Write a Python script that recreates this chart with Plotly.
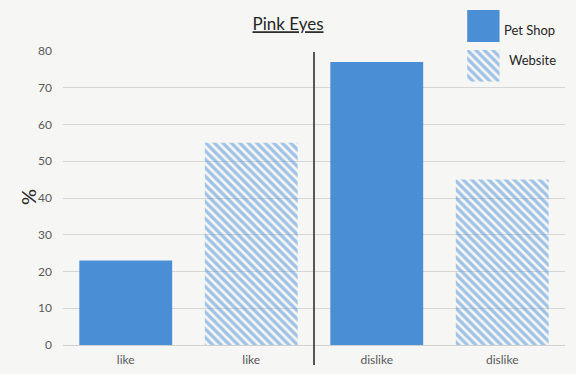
import plotly.graph_objects as go

categories = ["like", "like", "dislike", "dislike"]
series = ["Pet Shop", "Website", "Pet Shop", "Website"]
values = [23, 55, 77, 45]
legend_names = ["Pet Shop", "Website"]
y_ticks = [0, 10, 20, 30, 40, 50, 60, 70, 80]

BLUE = "#4a8fd6"
FONT = "Lato, Open Sans, sans-serif"
HATCH = dict(shape="\\", fgcolor=BLUE, bgcolor="rgba(255,255,255,0)", size=6, solidity=0.55)


def marker_for(name):
    if name == "Website":
        return dict(color="rgba(255,255,255,0)", line=dict(width=0), pattern=HATCH)
    return dict(color=BLUE, line=dict(width=0))


fig = go.Figure()
xs = list(range(len(categories)))
for name in legend_names:
    idx = [i for i, s in enumerate(series) if s == name]
    fig.add_trace(go.Bar(
        x=[xs[i] for i in idx], y=[values[i] for i in idx], name=name,
        width=0.74, marker=marker_for(name), showlegend=False,
    ))

# legend swatches, each in its own small inset axis
legend_axes = [("x2", "y2"), ("x3", "y3")]
for name, (xa, ya) in zip(legend_names, legend_axes):
    fig.add_trace(go.Bar(
        x=[0], y=[1], xaxis=xa, yaxis=ya, width=1,
        marker=marker_for(name), showlegend=False, hoverinfo="skip",
    ))

fig.update_layout(
    width=576, height=374,
    paper_bgcolor="#f6f6f5", plot_bgcolor="#f6f6f5",
    margin=dict(l=63, r=11, t=5, b=29, autoexpand=False),
    font=dict(family=FONT, color="#595959", size=12),
    title=dict(text="<u>Pink Eyes</u>", x=0.5, xanchor="center", y=0.935, yanchor="middle",
               font=dict(size=17, color="#262626", family=FONT)),
    xaxis=dict(tickvals=xs, ticktext=categories, range=[-0.5, 3.5], domain=[0, 1],
               showgrid=False, showline=True, linecolor="#d0d0d0", ticks="",
               zeroline=False, automargin=False, ticklabelstandoff=4,
               tickfont=dict(size=12, color="#595959")),
    yaxis=dict(range=[0, 80], tickvals=y_ticks, domain=[0, 0.8647],
               showgrid=True, gridcolor="#d6d6d6", zeroline=False, ticks="",
               automargin=False, ticklabelstandoff=10,
               tickfont=dict(size=12, color="#595959")),
    xaxis2=dict(domain=[0.805, 0.870], anchor="y2", visible=False, range=[-0.5, 0.5]),
    yaxis2=dict(domain=[0.891, 0.985], anchor="x2", visible=False, range=[0, 1]),
    xaxis3=dict(domain=[0.805, 0.870], anchor="y3", visible=False, range=[-0.5, 0.5]),
    yaxis3=dict(domain=[0.774, 0.868], anchor="x3", visible=False, range=[0, 1]),
    showlegend=False,
    shapes=[dict(type="line", xref="x", yref="paper", x0=1.5, x1=1.5,
                 y0=-0.059, y1=0.862, line=dict(color="#222222", width=1.5))],
    annotations=[
        dict(text="%", xref="paper", yref="paper", x=-0.0697, y=0.435,
             xanchor="center", yanchor="middle", textangle=-90, showarrow=False,
             font=dict(size=20, color="#262626", family=FONT)),
        dict(text=legend_names[0], xref="paper", yref="paper", x=0.875, y=0.927,
             xanchor="left", yanchor="middle", showarrow=False,
             font=dict(size=13, color="#262626", family=FONT)),
        dict(text=legend_names[1], xref="paper", yref="paper", x=0.885, y=0.838,
             xanchor="left", yanchor="middle", showarrow=False,
             font=dict(size=13, color="#262626", family=FONT)),
    ],
)
fig.write_html("out.html", config=dict(displayModeBar=False),
               post_script="document.body.style.margin='0px';")
